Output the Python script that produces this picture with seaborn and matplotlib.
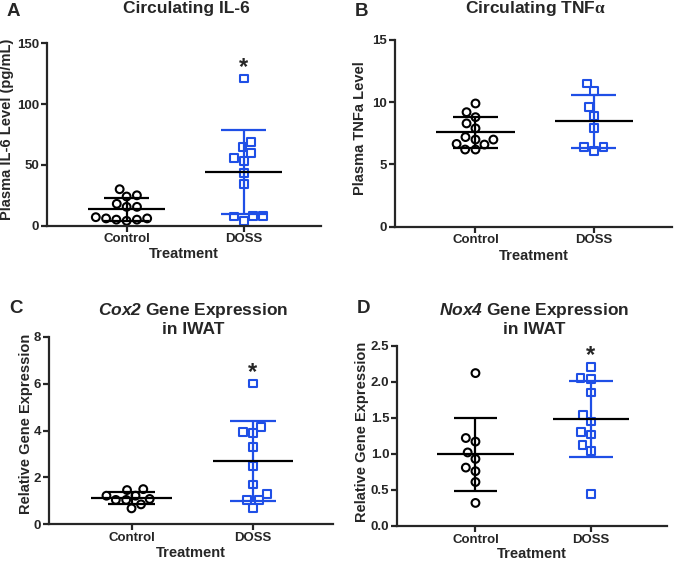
import numpy as np
import pandas as pd
import matplotlib
matplotlib.use('Agg')
import matplotlib.pyplot as plt
import seaborn as sns

sns.set_style('ticks')
plt.rcParams['font.family'] = ['Liberation Sans', 'DejaVu Sans']
plt.rcParams['font.weight'] = 'bold'
plt.rcParams['axes.labelweight'] = 'bold'
plt.rcParams['axes.titleweight'] = 'bold'
plt.rcParams['mathtext.fontset'] = 'custom'
plt.rcParams['mathtext.rm'] = 'Liberation Sans:italic:bold'
plt.rcParams['mathtext.sf'] = 'Liberation Serif'
plt.rcParams['mathtext.it'] = 'Liberation Sans:italic:bold'
plt.rcParams['mathtext.bf'] = 'Liberation Sans:bold'

groups = ['Control', 'DOSS']
colors = {'Control': 'black', 'DOSS': '#1f4fe6'}
markers = {'Control': 'o', 'DOSS': 's'}

# values
il6_ctrl = [30, 24, 25, 18, 15.5, 15.5, 6, 5, 4, 5, 6, 7]
il6_doss = [121, 69, 64.5, 59.5, 55.5, 53.5, 43.5, 34.5, 8, 4, 7.5, 8]
tnf_ctrl = [9.9, 9.2, 8.8, 8.3, 7.9, 7.0, 7.2, 7.0, 6.6, 6.2, 6.2, 6.65]
tnf_doss = [11.5, 10.9, 9.6, 8.9, 7.9, 6.4, 6.1, 6.4]
cox2_ctrl = [1.46, 1.50, 1.22, 1.22, 1.04, 1.04, 0.85, 1.08, 0.68]
cox2_doss = [6.0, 4.15, 3.9, 3.95, 3.3, 2.5, 1.7, 1.3, 1.05, 1.05, 0.7]
nox4_ctrl = [2.12, 1.17, 1.22, 1.02, 0.93, 0.81, 0.76, 0.61, 0.32]
nox4_doss = [2.20, 2.05, 2.04, 1.85, 1.54, 1.45, 1.30, 1.27, 1.12, 1.04, 0.44]

panels = [
    dict(letter='A', title='Circulating IL-6', ylabel='Plasma IL-6 Level (pg/mL)',
         ctrl=il6_ctrl, doss=il6_doss, yticks=[0, 50, 100, 150], fmt='%d', star=True,
         box=[47, 43.3, 321, 225.7], title_y=12.7, letter_y=12, ylab=(-0.12, 0.53)),
    dict(letter='B', title='Circulating TNF$\\mathsf{\\alpha}$', ylabel='Plasma TNFa Level',
         ctrl=tnf_ctrl, doss=tnf_doss, yticks=[0, 5, 10, 15], fmt='%d', star=False,
         box=[395, 40, 672, 226.7], title_y=13, letter_y=12, ylab=(-0.101, 0.526)),
    dict(letter='C', title='$\\mathrm{Cox2}$ Gene Expression\nin IWAT', ylabel='Relative Gene Expression',
         ctrl=cox2_ctrl, doss=cox2_doss, yticks=[0, 2, 4, 6, 8], fmt='%d', star=True,
         box=[49, 336.7, 333, 524.3], title_y=334.5, letter_y=308.5, ylab=(-0.055, 0.535)),
    dict(letter='D', title='$\\mathrm{Nox4}$ Gene Expression\nin IWAT', ylabel='Relative Gene Expression',
         ctrl=nox4_ctrl, doss=nox4_doss, yticks=[0, 0.5, 1.0, 1.5, 2.0, 2.5], fmt='%.1f', star=True,
         box=[397, 345.7, 667, 526], title_y=334.5, letter_y=308.5, ylab=(-0.102, 0.52)),
]

W, H = 674, 561
fig = plt.figure(figsize=(W / 100, H / 100), dpi=100)

for p in panels:
    x0, y0, x1, y1 = p['box']
    ax = fig.add_axes([x0 / W, 1 - y1 / H, (x1 - x0) / W, (y1 - y0) / H])
    df = pd.DataFrame({
        'group': ['Control'] * len(p['ctrl']) + ['DOSS'] * len(p['doss']),
        'value': p['ctrl'] + p['doss'],
    })
    ymax = p['yticks'][-1]
    ax.set_ylim(0, ymax)
    ax.set_xlim(-0.68, 1.66)

    for g in groups:
        sub = df[df['group'] == g]
        n_before = len(ax.collections)
        sns.swarmplot(data=sub, x='group', y='value', order=groups, marker=markers[g],
                      size=5.6, color=colors[g], ax=ax, zorder=2, warn_thresh=1)
        for coll in ax.collections[n_before:]:
            if len(coll.get_offsets()) == 0:
                coll.remove()
                continue
            coll.set_facecolor('none')
            coll.set_edgecolor(colors[g])
            coll.set_linewidth(1.5)
            coll.set_clip_on(False)

    # mean and SD bars
    stats = df.groupby('group')['value'].agg(['mean', 'std'])
    for i, g in enumerate(groups):
        m, s = stats.loc[g, 'mean'], stats.loc[g, 'std']
        ax.vlines(i, m - s, m + s, color=colors[g], lw=1.6, zorder=3)
        ax.hlines([m - s, m + s], i - 0.19, i + 0.19, color=colors[g], lw=1.6, zorder=3)
        ax.hlines(m, i - 0.33, i + 0.33, color='black', lw=1.6, zorder=4)

    if p['star']:
        top = max(p['doss'])
        ax.annotate('*', xy=(1, top), xytext=(0, 0), textcoords='offset points',
                    ha='center', va='bottom', fontsize=17, fontweight='bold')

    ax.set_xlim(-0.68, 1.66)
    ax.set_ylim(0, ymax)
    ax.set_yticks(p['yticks'])
    ax.set_yticklabels([p['fmt'] % t for t in p['yticks']])
    sns.despine(ax=ax)
    for side in ['left', 'bottom']:
        ax.spines[side].set_linewidth(1.6)
    ax.tick_params(width=1.6, length=4, labelsize=9.5, pad=1.5)
    for lbl in ax.get_xticklabels() + ax.get_yticklabels():
        lbl.set_fontweight('bold')

    ax.set_xlabel('Treatment', fontsize=10.5)
    ax.set_ylabel(p['ylabel'], fontsize=10.5)
    ax.xaxis.set_label_coords(0.5, -0.118)
    ax.yaxis.set_label_coords(*p['ylab'])

    fig.text((x0 + x1) / 2 / W + 2 / W, 1 - p['title_y'] / H, p['title'],
             fontsize=12.5, fontweight='bold', ha='center', va='baseline')
    fig.text((x0 - 40) / W, 1 - p['letter_y'] / H, p['letter'],
             fontsize=13.5, fontweight='bold', ha='left', va='center')

fig.savefig('out.png', dpi=100)
